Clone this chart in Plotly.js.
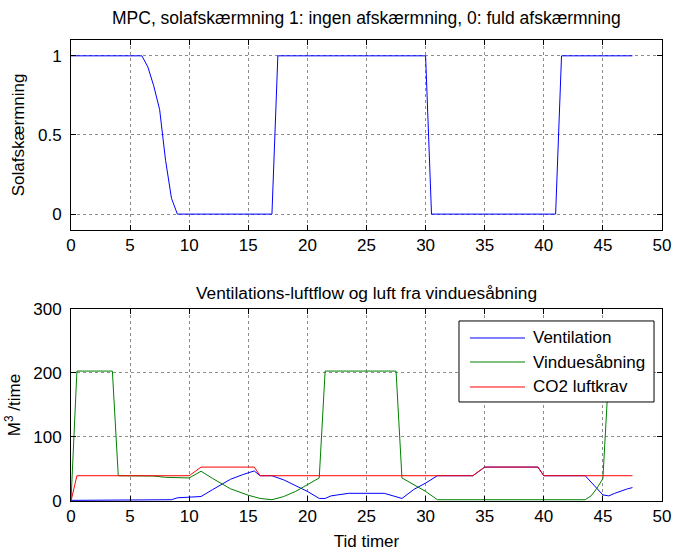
<!DOCTYPE html>
<html>
<head>
<meta charset="utf-8">
<script src="https://cdn.plot.ly/plotly-3.0.1.min.js"></script>
<style>html,body{margin:0;padding:0;background:#fff;}#chart{width:673px;height:551px;}</style>
</head>
<body>
<div id="chart"></div>
<script>
// Top panel: solar shading (1 = none, 0 = full)
const tSol = [0, 6, 6.5, 7, 7.5, 8, 8.5, 9, 17, 17.5, 30, 30.5, 41, 41.5, 47.5];
const solShade = [1, 1, 0.93, 0.81, 0.66, 0.34, 0.1, 0, 0, 1, 1, 0, 0, 1, 1];

// Bottom panel: ventilation airflow (M3/time)
const tVent = [0, 8.5, 9, 10, 11, 12, 13, 13.5, 14.5, 15.5, 16, 17, 18, 19, 20, 21, 21.5, 22, 23, 23.5, 26.5, 28, 29, 30, 31, 34, 35, 39.5, 40, 43.5, 45, 45.5, 46, 46.5, 47, 47.5];
const ventilation = [1, 2, 5, 5.5, 7, 18, 29, 34, 41, 47, 39.5, 39.5, 33, 24, 15, 4, 4, 8, 10.5, 12, 12, 4, 18, 28, 39.5, 39.5, 53, 53, 39.5, 39.5, 9.5, 8, 12, 15.5, 18.5, 21];

// Window opening airflow
const tWin = [0, 0.5, 3.5, 4, 7, 8, 10, 11, 12, 13, 13.5, 15, 16, 17, 18, 19, 20, 21, 21.5, 27.5, 28, 29, 30, 31, 43.5, 44, 44.5, 45, 45.5, 47.5];
const windowOpen = [0, 203, 203, 39.5, 39, 37, 36, 46.5, 35, 24, 19, 9, 4, 2, 7, 15, 25, 36, 203, 203, 36, 25, 15, 2, 2, 8, 20, 35, 203, 203];

// CO2 air requirement
const tCO2 = [0, 0.5, 10, 11, 15.5, 16, 34, 35, 39.5, 40, 47.5];
const co2Req = [0, 39.5, 39.5, 53, 53, 39.5, 39.5, 53, 53, 39.5, 39.5];

const xTicks = [0, 5, 10, 15, 20, 25, 30, 35, 40, 45, 50];
const ySolTicks = [0, 0.5, 1];
const yFlowTicks = [0, 100, 200, 300];

const seriesNames = ['Ventilation', 'Vinduesåbning', 'CO2 luftkrav'];
const seriesColors = ['#0000ff', '#008000', '#ff0000'];

const FONT = 'Liberation Sans, Arial, Helvetica, sans-serif';
const FS = 17;

function axisStyle(extra) {
  return Object.assign({
    showline: true, linecolor: '#000', linewidth: 1, mirror: 'ticks',
    ticks: 'inside', ticklen: 5, tickcolor: '#000', tickwidth: 1,
    showgrid: true, gridcolor: '#8c8c8c', griddash: 'dot', gridwidth: 1,
    zeroline: false, tickfont: {family: FONT, size: FS, color: '#000'},
    automargin: false
  }, extra);
}

const traces = [
  {x: tSol, y: solShade, type: 'scatter', mode: 'lines', line: {color: '#0000ff', width: 1}, xaxis: 'x', yaxis: 'y', showlegend: false, name: 'Solafskærmning'},
  {x: tVent, y: ventilation, type: 'scatter', mode: 'lines', line: {color: seriesColors[0], width: 1}, xaxis: 'x2', yaxis: 'y2', name: seriesNames[0]},
  {x: tWin, y: windowOpen, type: 'scatter', mode: 'lines', line: {color: seriesColors[1], width: 1}, xaxis: 'x2', yaxis: 'y2', name: seriesNames[1]},
  {x: tCO2, y: co2Req, type: 'scatter', mode: 'lines', line: {color: seriesColors[2], width: 1}, xaxis: 'x2', yaxis: 'y2', name: seriesNames[2]}
];

// Legend box drawn in paper coordinates (MATLAB-style long line samples)
const legBox = {x0: 0.6565, x1: 0.9865, y0: 0.2148, y1: 0.3905};
const legRows = [0.3536, 0.3015, 0.2473];
const shapes = [
  {type: 'rect', xref: 'paper', yref: 'paper', x0: legBox.x0, x1: legBox.x1, y0: legBox.y0, y1: legBox.y1,
   line: {color: '#000', width: 1}, fillcolor: '#fff', layer: 'above'}
];
const annotations = [
  {text: 'MPC, solafskærmning 1: ingen afskærmning, 0: fuld afskærmning', xref: 'paper', yref: 'paper', x: 0.5, y: 1.0477, xanchor: 'center', yanchor: 'middle', showarrow: false, font: {family: FONT, size: 17.5, color: '#000'}},
  {text: 'Ventilations-luftflow og luft fra vinduesåbning', xref: 'paper', yref: 'paper', x: 0.5, y: 0.451, xanchor: 'center', yanchor: 'middle', showarrow: false, font: {family: FONT, size: 17.3, color: '#000'}}
];
seriesNames.forEach((nm, i) => {
  shapes.push({type: 'line', xref: 'paper', yref: 'paper', x0: 0.6751, x1: 0.7682, y0: legRows[i], y1: legRows[i],
    line: {color: seriesColors[i], width: 1}, layer: 'above'});
  annotations.push({text: nm, xref: 'paper', yref: 'paper', x: 0.7783, y: legRows[i], xanchor: 'left', yanchor: 'middle',
    showarrow: false, font: {family: FONT, size: FS, color: '#000'}});
});

const layout = {
  width: 673, height: 551,
  margin: {l: 71, r: 11, t: 40, b: 50, pad: 0},
  paper_bgcolor: '#fff', plot_bgcolor: '#fff',
  font: {family: FONT, size: FS, color: '#000'},
  showlegend: false,
  xaxis: axisStyle({domain: [0, 1], anchor: 'y', range: [0, 50], tickvals: xTicks}),
  yaxis: axisStyle({domain: [0.588, 1], anchor: 'x', range: [-0.1, 1.1], tickvals: ySolTicks, ticktext: ['0', '0.5', '1'],
    ticklabelstandoff: 5,
    title: {text: 'Solafskærmning', font: {family: FONT, size: FS, color: '#000'}, standoff: 8}}),
  xaxis2: axisStyle({domain: [0, 1], anchor: 'y2', range: [0, 50], tickvals: xTicks,
    title: {text: 'Tid timer', font: {family: FONT, size: FS, color: '#000'}, standoff: 9}}),
  yaxis2: axisStyle({domain: [0, 0.4165], anchor: 'x2', range: [0, 300], tickvals: yFlowTicks,
    ticklabelstandoff: 5,
    title: {text: 'M<sup>3</sup> /time', font: {family: FONT, size: FS, color: '#000'}, standoff: 8}}),
  shapes: shapes,
  annotations: annotations
};

Plotly.newPlot('chart', traces, layout, {displayModeBar: false, staticPlot: true});
</script>
</body>
</html>
